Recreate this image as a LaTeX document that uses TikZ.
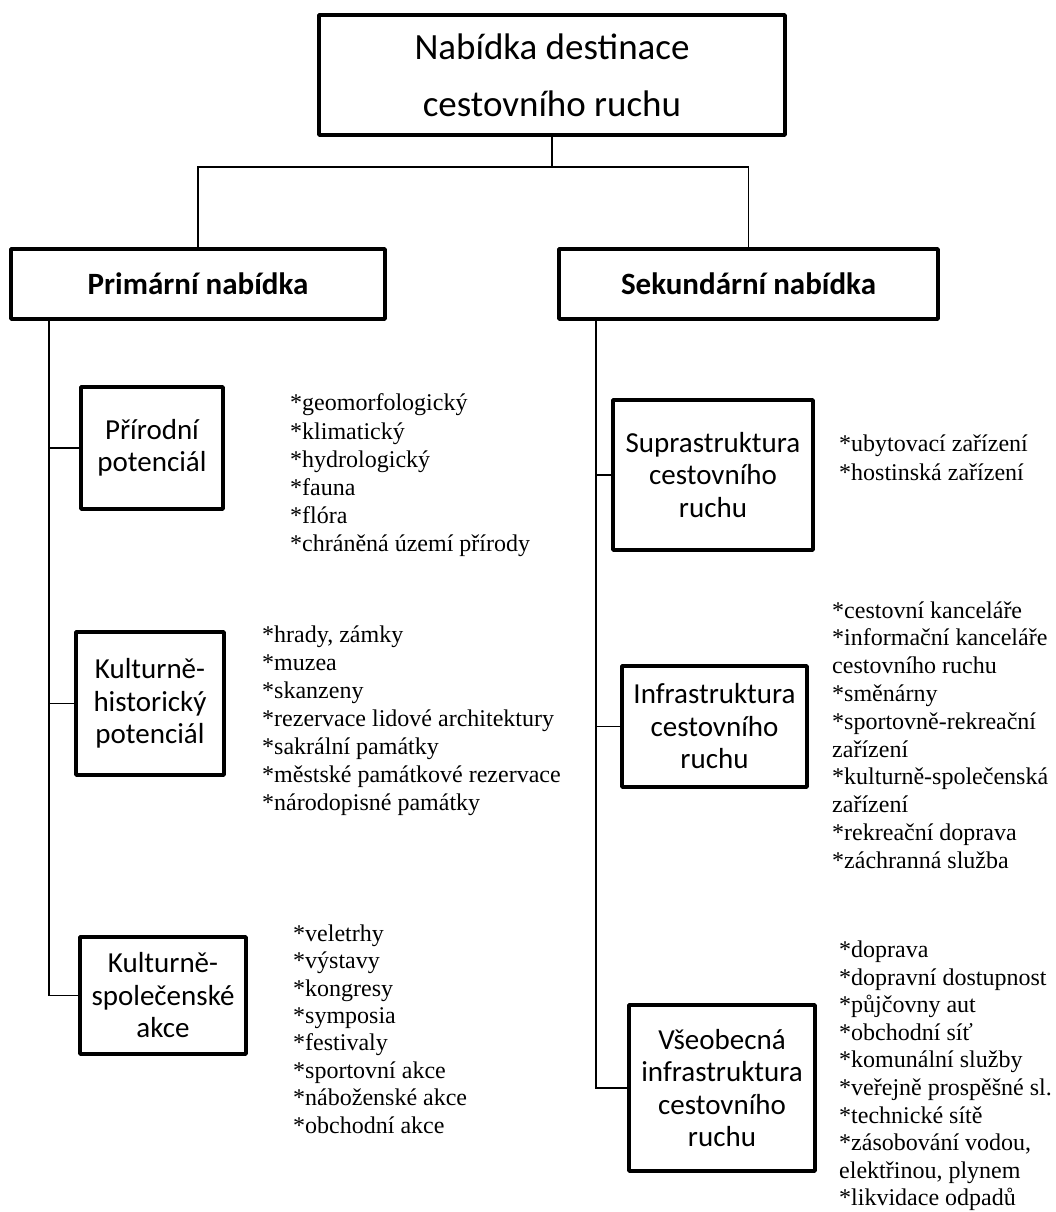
\documentclass[tikz,border=0pt]{standalone}
\usepackage{fontspec}
\newfontfamily\calib{Carlito}
\newfontfamily\tnr{Liberation Serif}
\begin{document}
\begin{tikzpicture}[x=1pt,y=-1pt,
  box/.style={draw, line width=4.4pt, line join=round, inner sep=0pt, align=center,
    font={\calib\fontsize{29}{32.5}\selectfont}},
  conn/.style={line width=1.8pt},
  lst/.style={anchor=west, inner sep=0pt, align=left},
]
\fill[white] (0,0) rectangle (1055,1212);
\useasboundingbox (0,0) rectangle (1055,1212);

% boxes
\node[box, minimum width=465.6pt, minimum height=119.6pt,
  font={\calib\fontsize{37}{57}\selectfont}] (top) at (552,75) {Nabídka destinace\\cestovního ruchu};
\node[box, minimum width=373.6pt, minimum height=69.6pt,
  font={\calib\bfseries\fontsize{31}{34}\selectfont}] (prim) at (198,284) {Primární nabídka};
\node[box, minimum width=378.6pt, minimum height=69.6pt,
  font={\calib\bfseries\fontsize{31}{34}\selectfont}] (sek) at (748.5,284) {Sekundární nabídka};

\node[box, minimum width=141.6pt, minimum height=121.6pt] (prir) at (152,448) {Přírodní\\potenciál};
\node[box, minimum width=147.6pt, minimum height=142.6pt] (kh) at (150,703.5) {Kulturně-\\historický\\potenciál};
\node[box, minimum width=165.6pt, minimum height=116.6pt] (ks) at (163,995.5) {Kulturně-\\společenské\\akce};

\node[box, minimum width=199.6pt, minimum height=149.6pt] (supra) at (713,475) {Suprastruktura\\cestovního\\ruchu};
\node[box, minimum width=184.6pt, minimum height=120.6pt] (infra) at (714.5,726.5) {Infrastruktura\\cestovního\\ruchu};
\node[box, minimum width=185.6pt, minimum height=165.6pt] (vseob) at (722,1088) {Všeobecná\\infrastruktura\\cestovního\\ruchu};

% connectors
\coordinate (jn) at (552,167);
\coordinate (ltx) at (49,0);
\coordinate (rtx) at (596,0);
\draw[conn] (top.south) -- (jn);
\draw[conn] (prim.north) |- (jn) -| (sek.north);
\draw[conn] (prim.south -| ltx) |- (ks.west);
\draw[conn] (prir.west) -- (prir.west -| ltx);
\draw[conn] (kh.west) -- (kh.west -| ltx);
\draw[conn] (sek.south -| rtx) |- (vseob.west);
\draw[conn] (supra.west) -- (supra.west -| rtx);
\draw[conn] (infra.west) -- (infra.west -| rtx);

% lists
\node[lst, font={\tnr\fontsize{24}{28.2}\selectfont}] (l1) at (290,475.5)
  {*geomorfologický\\*klimatický\\*hydrologický\\*fauna\\*flóra\\*chráněná území přírody};
\node[lst, font={\tnr\fontsize{24}{27.9}\selectfont}] (l2) at (262,720.8)
  {*hrady, zámky\\*muzea\\*skanzeny\\*rezervace lidové architektury\\*sakrální památky\\*městské památkové rezervace\\*národopisné památky};
\node[lst, font={\tnr\fontsize{24}{27.4}\selectfont}] (l3) at (293,1029)
  {*veletrhy\\*výstavy\\*kongresy\\*symposia\\*festivaly\\*sportovní akce\\*náboženské akce\\*obchodní akce};
\node[lst, font={\tnr\fontsize{24}{29}\selectfont}] (l4) at (839,457.5)
  {*ubytovací zařízení\\*hostinská zařízení};
\node[lst, font={\tnr\fontsize{24}{27.8}\selectfont}] (l5) at (832,735)
  {*cestovní kanceláře\\*informační kanceláře\\cestovního ruchu\\*směnárny\\*sportovně-rekreační\\zařízení\\*kulturně-společenská\\zařízení\\*rekreační doprava\\*záchranná služba};
\node[lst, font={\tnr\fontsize{24}{27.6}\selectfont}] (l6) at (839,1076)
  {*doprava\\*dopravní dostupnost\\*půjčovny aut\\*obchodní síť\\*komunální služby\\*veřejně prospěšné sl.\\*technické sítě\\*zásobování vodou,\\elektřinou, plynem\\*likvidace odpadů};
\end{tikzpicture}
\end{document}
